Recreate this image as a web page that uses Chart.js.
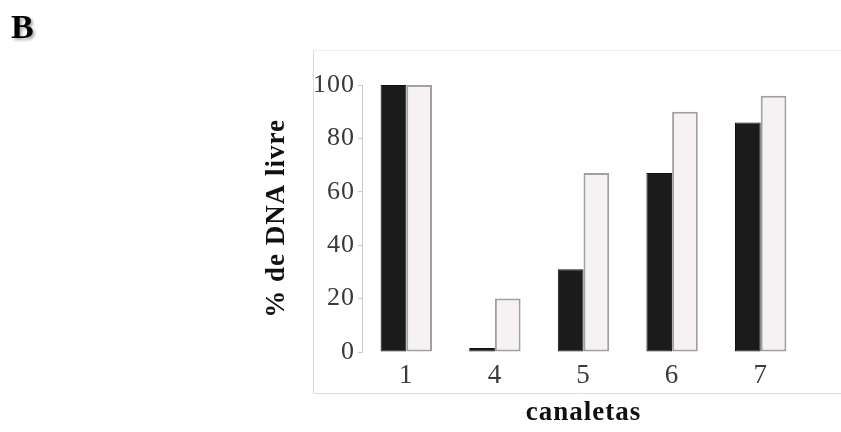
<!DOCTYPE html>
<html>
<head>
<meta charset="utf-8">
<script src="https://cdn.jsdelivr.net/npm/chart.js@4"></script>
<style>
html, body { margin: 0; padding: 0; background: #fff; }
</style>
</head>
<body>
<canvas id="myChart" width="841" height="432"></canvas>
<script>
// dados
var canaletas = ['1', '4', '5', '6', '7'];
var serie_escura = [100, 1.5, 31, 67, 86];
var serie_clara = [100, 20, 67, 90, 96];
var y_ticks = [0, 20, 40, 60, 80, 100];

var serif = "'Liberation Serif', 'DejaVu Serif', serif";

// moldura cinza e letra do painel
var painel = {
    id: 'painel',
    beforeDraw: function(chart) {
        var ctx = chart.ctx;
        ctx.letterSpacing = '1px';
        ctx.save();
        ctx.strokeStyle = '#f0f0f0';
        ctx.lineWidth = 1;
        ctx.beginPath();
        ctx.moveTo(313, 50.5);
        ctx.lineTo(841, 50.5);
        ctx.stroke();
        ctx.strokeStyle = '#dcdcdc';
        ctx.beginPath();
        ctx.moveTo(313.5, 50);
        ctx.lineTo(313.5, 393.5);
        ctx.lineTo(841, 393.5);
        ctx.stroke();
        ctx.restore();
    },
    afterDraw: function(chart) {
        var ctx = chart.ctx;
        ctx.save();
        ctx.letterSpacing = '0px';
        ctx.fillStyle = '#000';
        ctx.shadowColor = 'rgba(0,0,0,0.35)';
        ctx.shadowBlur = 3;
        ctx.shadowOffsetX = 2;
        ctx.shadowOffsetY = 2;
        ctx.font = 'bold 34px ' + serif;
        ctx.textBaseline = 'alphabetic';
        ctx.fillText('B', 11, 38);
        ctx.restore();
    }
};

var ctx = document.getElementById('myChart').getContext('2d');
var chart = new Chart(ctx, {
    type: 'bar',
    data: {
        labels: canaletas,
        datasets: [{
            data: serie_escura,
            backgroundColor: '#1b1b1b',
            borderColor: '#111111',
            borderWidth: 1,
            borderSkipped: false
        }, {
            data: serie_clara,
            backgroundColor: '#f6f2f3',
            borderColor: '#a0a0a0',
            borderWidth: 2,
            borderSkipped: false
        }]
    },
    options: {
        responsive: false,
        animation: false,
        devicePixelRatio: 1,
        layout: { padding: { left: 261, right: 36, top: 85, bottom: 0 } },
        datasets: { bar: { barPercentage: 1, categoryPercentage: 0.58 } },
        plugins: { legend: { display: false }, tooltip: { enabled: false } },
        scales: {
            x: {
                grid: { display: false },
                border: { display: false },
                ticks: { color: '#3a3a3a', padding: 0, font: { family: serif, size: 27 } },
                title: {
                    display: true,
                    text: 'canaletas',
                    color: '#111',
                    padding: { top: 0, bottom: 3 },
                    font: { family: serif, size: 27, weight: 'bold' }
                },
                afterFit: function(scale) { scale.height = 80; }
            },
            y: {
                min: 0,
                max: 100,
                afterBuildTicks: function(scale) {
                    scale.ticks = y_ticks.map(function(v) { return { value: v }; });
                },
                grid: { drawOnChartArea: false, drawTicks: true, tickLength: 4, color: '#c8c8c8' },
                border: { display: true, color: '#c8c8c8', width: 1 },
                ticks: { color: '#3a3a3a', padding: 3, font: { family: serif, size: 26 } },
                title: {
                    display: true,
                    text: '% de DNA livre',
                    color: '#111',
                    padding: { top: 0, bottom: 0 },
                    font: { family: serif, size: 27, weight: 'bold' }
                },
                afterFit: function(scale) { scale.width = 101; }
            }
        }
    },
    plugins: [painel]
});
</script>
</body>
</html>
